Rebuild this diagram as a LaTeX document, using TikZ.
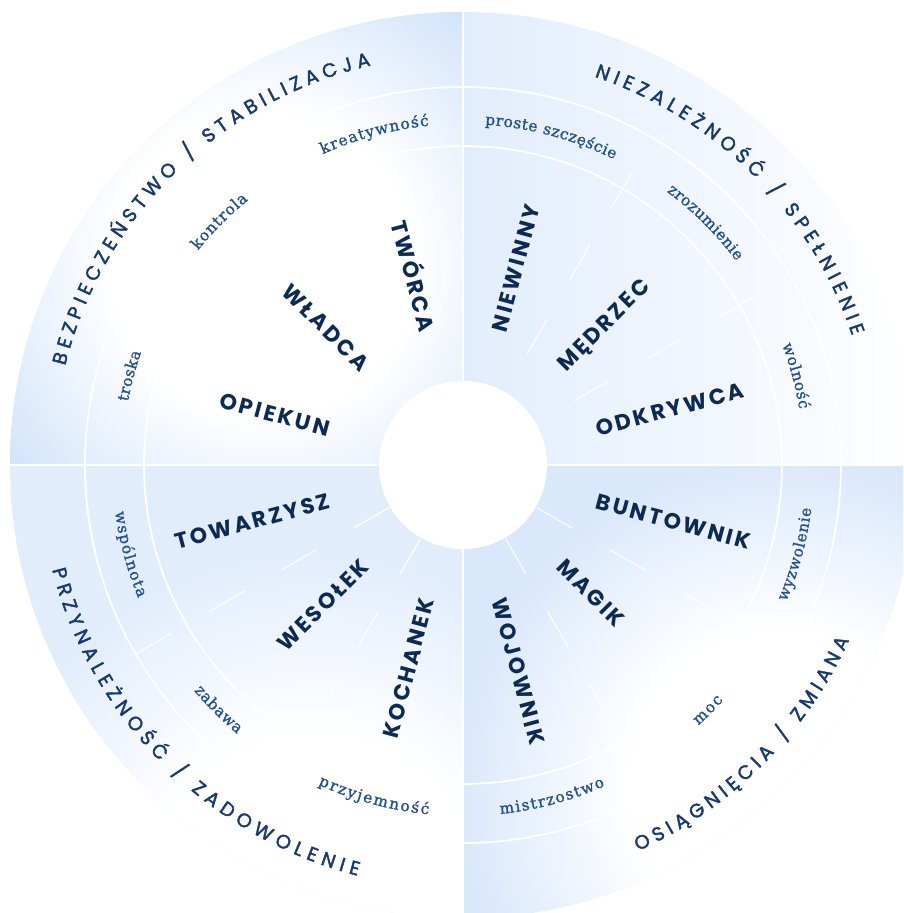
\documentclass[tikz,border=0pt]{standalone}
\usepackage{fontspec}
\usepackage{xcolor}
\usepackage{tikz}
\usetikzlibrary{decorations.text}

\newfontfamily\archfont{Poppins}[LetterSpace=12]
\newfontfamily\titlesans{Poppins}[FakeBold=2]
\newfontfamily\valserif{DejaVu Serif}[FakeBold=1.3]
\newcommand\titletext{\titlesans\fontsize{14.5}{14.5}\selectfont}
\newcommand\valtext{\valserif\fontsize{11.5}{11.5}\selectfont}

\definecolor{qdark}{HTML}{D3E4FA}
\definecolor{qmid}{HTML}{E2EDFC}
\definecolor{qbr}{HTML}{DAE8FB}
\definecolor{archblue}{HTML}{0D2A52}
\definecolor{titleblue}{HTML}{183A6E}
\definecolor{valblue}{HTML}{23518F}

\pgfdeclareradialshading{darkglow}{\pgfpoint{0bp}{0bp}}{color(0bp)=(white); color(8bp)=(white); color(17bp)=(qdark); color(50bp)=(qdark)}
\pgfdeclareradialshading{brglow}{\pgfpoint{0bp}{0bp}}{color(0bp)=(white); color(8bp)=(white); color(17bp)=(qbr); color(50bp)=(qbr)}
\pgfdeclareradialshading{midglow}{\pgfpoint{0bp}{0bp}}{color(0bp)=(white); color(8bp)=(white); color(17bp)=(qmid); color(50bp)=(qmid)}
\pgfdeclarehorizontalshading{midfade}{100bp}{color(0bp)=(qmid); color(25bp)=(qmid); color(75bp)=(white); color(100bp)=(white)}

\begin{document}
\begin{tikzpicture}
        [x=0.75pt,y=0.75pt,
         archname/.style={font=\archfont\bfseries\fontsize{16.5}{16.5}\selectfont,text=archblue,inner sep=0pt,text height=11.5pt,text depth=0pt},
         ring/.style={draw=white,line width=1.3pt},
         axisgap/.style={draw=white,line width=1pt},
         tickline/.style={draw=white,line width=1pt,opacity=0.85},
         quadtitle/.style={decorate,decoration={text along path,text={|\titletext|#1},text align=fit to path,text color=titleblue}},
         valuelabel/.style={decorate,decoration={text along path,text={|\valtext|#1},text align=fit to path,text color=valblue}}]
        \useasboundingbox (-463,-448) rectangle (440,465);
        \clip (-463,-448) rectangle (440,465);

        \begin{scope}
            \clip (0,0) -- (180:453) arc (180:90:453) -- cycle;
            \fill [qdark] (-453,0) rectangle (0,453);
            \shade [shading=darkglow] (-200,200) circle (470);
        \end{scope}
        \begin{scope}
            \clip (0,0) -- (90:453) arc (90:0:453) -- cycle;
            \shade [shading=midfade] (0,0) rectangle (453,453);
        \end{scope}
        \begin{scope}
            \clip (0,0) -- (0:453) arc (0:-90:453) -- cycle;
            \fill [qbr] (0,-453) rectangle (453,0);
            \shade [shading=brglow] (320,-320) circle (480);
        \end{scope}
        \begin{scope}
            \clip (0,0) -- (-90:453) arc (-90:-180:453) -- cycle;
            \fill [qmid] (-453,-453) rectangle (0,0);
            \shade [shading=midglow] (-150,-430) circle (500);
        \end{scope}

        \draw [ring] (0,0) circle (319) (0,0) circle (378);
        \draw [axisgap] (-453,0) -- (453,0) (0,-453) -- (0,453);
        \fill [white] (0,0) circle (84);

        \foreach \a in {30,60,120,150}
            \foreach \r in {128,214,296}
                \draw [tickline] (\a:\r) -- (\a:{\r+41});
        \foreach \a in {210,240,300,330}
            \foreach \r in {85,169,252,336}
                \draw [tickline] (\a:\r) -- (\a:{\r+41});

        \node [archname,anchor=east,rotate=-75,name=tworca] at (105:138) {TWÓRCA};
        \node [archname,anchor=east,rotate=-45,name=wladca] at (135:138) {WŁADCA};
        \node [archname,anchor=east,rotate=-15,name=opiekun] at (165:138) {OPIEKUN};
        \node [archname,anchor=west,rotate=75,name=niewinny] at (75:138) {NIEWINNY};
        \node [archname,anchor=west,rotate=45,name=medrzec] at (45:138) {MĘDRZEC};
        \node [archname,anchor=west,rotate=15,name=odkrywca] at (15:138) {ODKRYWCA};
        \node [archname,anchor=west,rotate=-15,name=buntownik] at (345:138) {BUNTOWNIK};
        \node [archname,anchor=west,rotate=-45,name=magik] at (315:138) {MAGIK};
        \node [archname,anchor=west,rotate=-75,name=wojownik] at (285:138) {WOJOWNIK};
        \node [archname,anchor=east,rotate=75,name=kochanek] at (255:138) {KOCHANEK};
        \node [archname,anchor=east,rotate=45,name=wesolek] at (225:138) {WESOŁEK};
        \node [archname,anchor=east,rotate=15,name=towarzysz] at (195:138) {TOWARZYSZ};

        \path [valuelabel={kreatywność}] (114.3:341) arc (114.3:95.7:341);
        \path [valuelabel={kontrola}] (141:341) arc (141:129:341);
        \path [valuelabel={troska}] (169.3:341) arc (169.3:160.7:341);
        \path [valuelabel={proste szczęście}] (86.3:341) arc (86.3:63.7:341);
        \path [valuelabel={zrozumienie}] (53.3:341) arc (53.3:36.7:341);
        \path [valuelabel={wolność}] (20.6:341) arc (20.6:9.4:341);
        \path [valuelabel={wyzwolenie}] (337.1:351) arc (337.1:352.9:351);
        \path [valuelabel={moc}] (312.1:351) arc (312.1:317.9:351);
        \path [valuelabel={mistrzostwo}] (276.1:351) arc (276.1:293.9:351);
        \path [valuelabel={przyjemność}] (245.6:351) arc (245.6:264.4:351);
        \path [valuelabel={zabawa}] (220:351) arc (220:230:351);
        \path [valuelabel={wspólnota}] (187.7:351) arc (187.7:202.3:351);

        \path [quadtitle={BEZPIECZEŃSTWO / STABILIZACJA}] (166:410) arc (166:103:410);
        \path [quadtitle={NIEZALEŻNOŚĆ / SPEŁNIENIE}] (71.3:410) arc (71.3:18.4:410);
        \path [quadtitle={OSIĄGNIĘCIA / ZMIANA}] (294.4:424) arc (294.4:335.6:424);
        \path [quadtitle={PRZYNALEŻNOŚĆ / ZADOWOLENIE}] (194.3:424) arc (194.3:255.6:424);
\end{tikzpicture}
\end{document}
